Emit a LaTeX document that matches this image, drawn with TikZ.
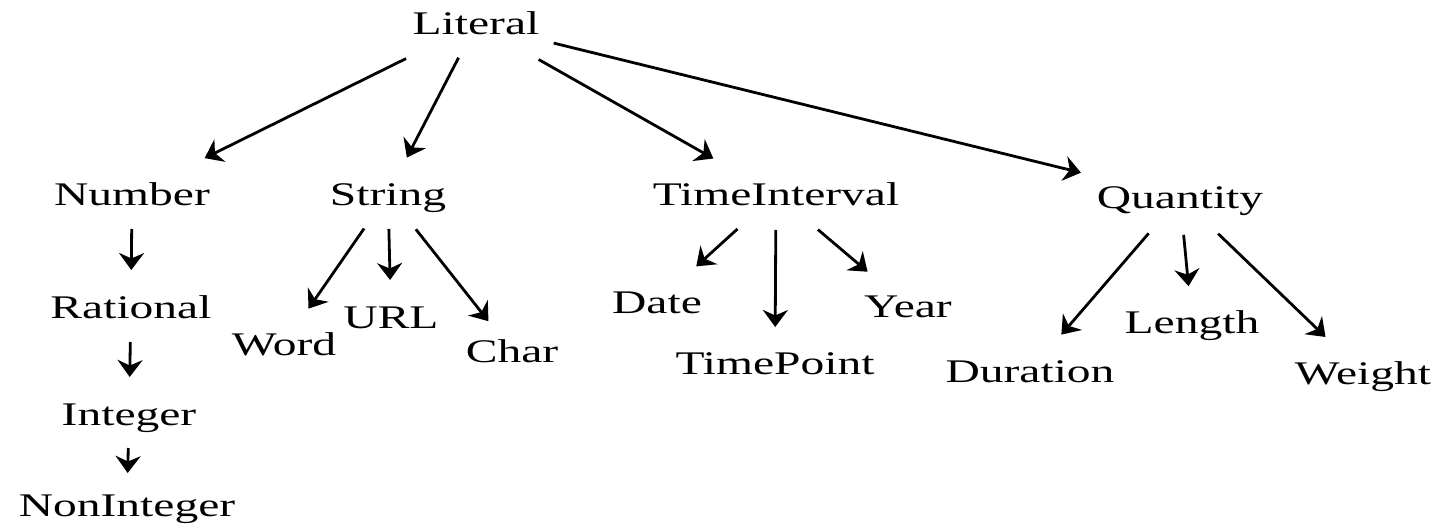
\documentclass[tikz,border=0pt]{standalone}
\usepackage{graphicx}
\usepackage{fontspec}
\setmainfont{Liberation Serif}
\usetikzlibrary{arrows.meta}
% labels are set in a widened serif face
\newcommand{\wide}[1]{\scalebox{1.44}[1]{#1}}
\tikzset{
  lbl/.style={font=\fontsize{33}{36}\selectfont, inner sep=0pt,
    text height=22pt, text depth=0pt, anchor=base},
  arr/.style={-{Stealth[length=17pt,width=25pt,inset=5.5pt]}, line width=2.8pt},
  gap/.style 2 args={shorten <=#1pt, shorten >=#2pt},
}
\begin{document}
\begin{tikzpicture}[x=1pt,y=-1pt]
\useasboundingbox (0,0) rectangle (1437,527);

% root
\node[lbl] (lit) at (476,35) {\wide{Literal}};

% first level
\node[lbl] (num) at (132,205) {\wide{Number}};
\node[lbl] (str) at (388,205) {\wide{String}};
\node[lbl] (ti)  at (776,205) {\wide{TimeInterval}};
\node[lbl] (qty) at (1180,208) {\wide{Quantity}};

% number chain
\node[lbl] (rat) at (131,318) {\wide{Rational}};
\node[lbl] (int) at (129,425) {\wide{Integer}};
\node[lbl] (non) at (127,516) {\wide{NonInteger}};

% string children
\node[lbl] (word) at (284,355) {\wide{Word}};
\node[lbl] (url)  at (391,328) {\wide{URL}};
\node[lbl] (chr)  at (512,362) {\wide{Char}};

% time children
\node[lbl] (date) at (657,313) {\wide{Date}};
\node[lbl] (tp)   at (775,374) {\wide{TimePoint}};
\node[lbl] (year) at (908,317) {\wide{Year}};

% quantity children
\node[lbl] (dur) at (1030,382) {\wide{Duration}};
\node[lbl] (len) at (1192,333) {\wide{Length}};
\node[lbl] (wt)  at (1363,384) {\wide{Weight}};

% connectors
\draw[arr, gap={78}{81}]  (lit.center) -- (num.center);
\draw[arr, gap={38}{41}]  (lit.center) -- (str.center);
\draw[arr, gap={72}{72}]  (lit.center) -- (ti.center);
\draw[arr, gap={80}{102}] (lit.center) -- (qty.center);

\draw[arr, gap={35}{37}] (num.center) -- (rat.center);
\draw[arr, gap={35}{37}] (rat.center) -- (int.center);
\draw[arr, gap={34}{32}] (int.center) -- (non.center);

\draw[arr, gap={42}{43}] (str.center) -- (word.center);
\draw[arr, gap={35}{37}] (str.center) -- (url.center);
\draw[arr, gap={45}{38}] (str.center) -- (chr.center);

\draw[arr, gap={52}{53}] (ti.center) -- (date.center);
\draw[arr, gap={36}{36}] (ti.center) -- (tp.center);
\draw[arr, gap={55}{53}] (ti.center) -- (year.center);

\draw[arr, gap={48}{48}] (qty.center) -- (dur.center);
\draw[arr, gap={38}{36}] (qty.center) -- (len.center);
\draw[arr, gap={53}{52}] (qty.center) -- (wt.center);
\end{tikzpicture}
\end{document}
